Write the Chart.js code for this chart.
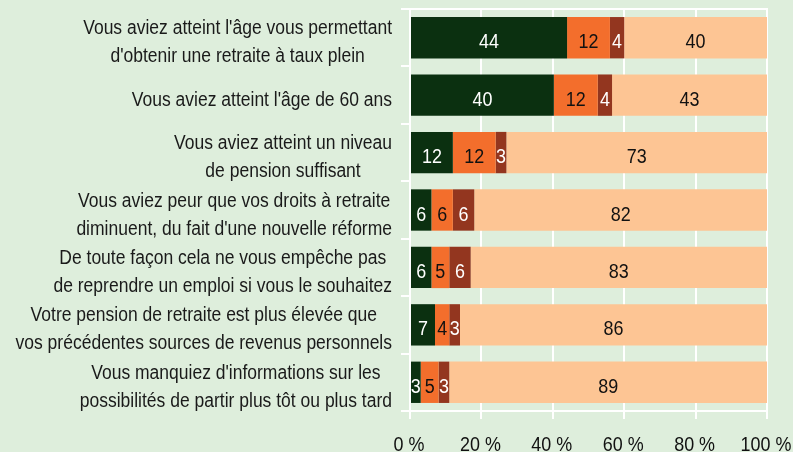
<!DOCTYPE html>
<html>
<head>
<meta charset="utf-8">
<script src="https://cdn.jsdelivr.net/npm/chart.js@4"></script>
<style>
  html, body { margin: 0; padding: 0; background: #deeedc; }
  #wrap { width: 793px; height: 452px; }
</style>
</head>
<body>
<div id="wrap"><canvas id="chart"></canvas></div>
<script>
// Libellés des catégories (une ligne par élément)
const categories = [
    ["Vous aviez atteint l'âge vous permettant", "d'obtenir une retraite à taux plein"],
    ["Vous aviez atteint l'âge de 60 ans"],
    ["Vous aviez atteint un niveau", "de pension suffisant"],
    ["Vous aviez peur que vos droits à retraite", "diminuent, du fait d'une nouvelle réforme"],
    ["De toute façon cela ne vous empêche pas", "de reprendre un emploi si vous le souhaitez"],
    ["Votre pension de retraite est plus élevée que", "vos précédentes sources de revenus personnels"],
    ["Vous manquiez d'informations sur les", "possibilités de partir plus tôt ou plus tard"]
];

// Valeurs (%) par série
const serie1 = [44, 40.3, 12, 6, 6, 7, 3];
const serie2 = [12, 12.3, 12, 6, 5, 4, 5];
const serie3 = [4, 4.0, 3, 6, 6, 3, 3];
const serie4 = [40, 43.4, 73, 82, 83, 86, 89];

const xTicks = [0, 20, 40, 60, 80, 100];

const couleurs = ['#0b3010', '#f36e2c', '#93361f', '#fdc594'];
const couleursTexte = ['#ffffff', '#111111', '#ffffff', '#111111'];

const FONT = '"Liberation Sans", Arial, sans-serif';
const SERRE = 0.875; // police un peu condensée comme sur l'original

// texte condensé horizontalement, centré sur x
function texteCentre(ctx, txt, x, y) {
    ctx.save();
    ctx.translate(x, y);
    ctx.scale(SERRE, 1);
    ctx.textAlign = 'center';
    ctx.fillText(txt, 0, 0);
    ctx.restore();
}

// Valeurs affichées au centre des segments
const valeursPlugin = {
    id: 'valeurs',
    afterDatasetsDraw(chart) {
        const ctx = chart.ctx;
        ctx.save();
        ctx.font = '20.5px ' + FONT;
        ctx.textBaseline = 'alphabetic';
        chart.data.datasets.forEach((ds, i) => {
            const meta = chart.getDatasetMeta(i);
            meta.data.forEach((bar, j) => {
                const x = (bar.x + bar.base) / 2;
                ctx.fillStyle = couleursTexte[i];
                texteCentre(ctx, String(Math.round(ds.data[j])), x, bar.y + 10.5);
            });
        });
        ctx.restore();
    }
};

// Libellés des axes
const libellesPlugin = {
    id: 'libelles',
    afterDraw(chart) {
        const ctx = chart.ctx;
        const yScale = chart.scales.y;
        const xScale = chart.scales.x;
        const droite = 392;
        const interligne = 28;
        ctx.save();
        ctx.font = '20px ' + FONT;
        ctx.fillStyle = '#1a1a1a';
        ctx.textBaseline = 'alphabetic';
        // axe vertical : bloc aligné à droite, lignes centrées entre elles
        categories.forEach((lignes, i) => {
            const yc = yScale.getPixelForValue(i) + 10.5;
            const largeur = Math.max(...lignes.map(l => ctx.measureText(l).width)) * SERRE;
            const xc = droite - largeur / 2;
            lignes.forEach((l, k) => {
                texteCentre(ctx, l, xc, yc + (k - (lignes.length - 1) / 2) * interligne);
            });
        });
        // axe horizontal
        ctx.font = '20.5px ' + FONT;
        ctx.fillStyle = '#111111';
        xTicks.forEach(v => {
            texteCentre(ctx, v + ' %', xScale.getPixelForValue(v) - 1, 451);
        });
        ctx.restore();
    }
};

const jeux = [serie1, serie2, serie3, serie4].map((d, i) => ({
    label: 'Série ' + (i + 1),
    data: d,
    backgroundColor: couleurs[i],
    borderWidth: 0,
    categoryPercentage: 0.72,
    barPercentage: 1
}));

new Chart(document.getElementById('chart'), {
    type: 'bar',
    data: {
        labels: categories,
        datasets: jeux
    },
    options: {
        indexAxis: 'y',
        responsive: true,
        maintainAspectRatio: false,
        animation: false,
        layout: { padding: { top: 9, right: 26, left: 0, bottom: 0 } },
        plugins: {
            legend: { display: false },
            tooltip: { enabled: false }
        },
        scales: {
            x: {
                stacked: true,
                min: 0,
                max: 100,
                afterBuildTicks(scale) {
                    scale.ticks = xTicks.map(v => ({ value: v }));
                },
                afterFit(scale) { scale.height = 41; },
                grid: {
                    color: '#ffffff',
                    lineWidth: 2,
                    tickLength: 8
                },
                border: { color: '#ffffff', width: 2 },
                ticks: { display: false }
            },
            top: {
                axis: 'x',
                position: 'top',
                min: 0,
                max: 100,
                afterFit(scale) { scale.height = 0; },
                grid: { display: false },
                border: { color: '#ffffff', width: 2 },
                ticks: { display: false }
            },
            y: {
                stacked: true,
                afterFit(scale) { scale.width = 410; },
                grid: {
                    offset: true,
                    color: '#ffffff',
                    lineWidth: 2,
                    tickLength: 9,
                    drawOnChartArea: false
                },
                border: { color: '#ffffff', width: 2 },
                ticks: { display: false }
            }
        }
    },
    plugins: [valeursPlugin, libellesPlugin]
});
</script>
</body>
</html>
